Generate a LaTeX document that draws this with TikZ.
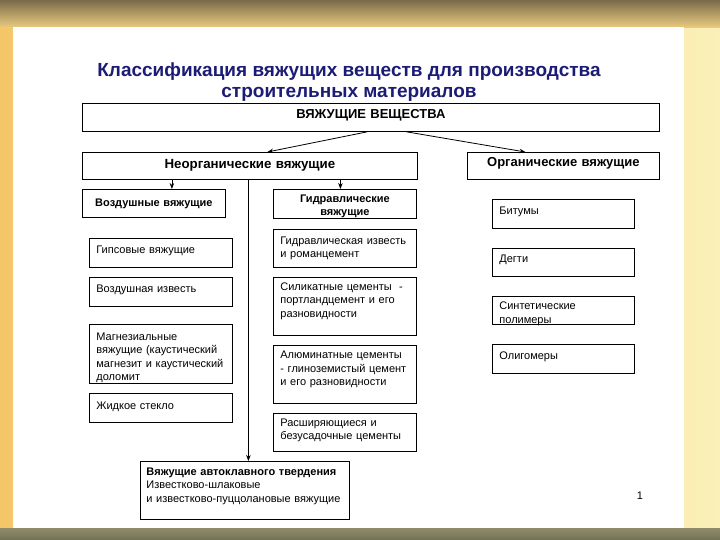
\documentclass[tikz,border=0pt]{standalone}
\usepackage{fontspec}
\setmainfont{Liberation Sans}
\usetikzlibrary{arrows.meta}

\definecolor{ctitle}{RGB}{28,28,118}
\definecolor{cgold}{RGB}{244,198,104}
\definecolor{ccream}{RGB}{250,240,184}
\definecolor{cbandtop}{RGB}{122,108,74}
\definecolor{cbandlow}{RGB}{236,204,128}
\definecolor{colive}{RGB}{142,140,106}
\definecolor{colivedk}{RGB}{116,114,86}

\begin{document}
\begin{tikzpicture}[x=1pt,y=-1pt,
        box/.style={draw=black,line width=0.8pt,anchor=north west,inner xsep=7pt,inner ysep=0pt,
                    text height=13.5pt,align=left,font=\fontsize{11}{13.5}\selectfont},
        head/.style={box,align=center,font=\fontsize{11}{13}\selectfont\bfseries},
        arr/.style={-{Stealth[length=6pt,width=4.5pt]},line width=0.8pt}]

      \useasboundingbox (0,0) rectangle (720,540);
      \shade[left color=cgold,right color=ccream] (0,0) rectangle (720,540);   % slide
      \shade[top color=cbandtop,bottom color=cbandlow] (0,0) rectangle (720,28);
      \shade[top color=colive,bottom color=colivedk] (0,528) rectangle (720,540);
      \fill[white] (13,27) rectangle (684,528);

      \node[align=center,text=ctitle,font=\fontsize{19}{20.5}\selectfont\bfseries]
        (title) at (349,82) {Классификация вяжущих веществ для производства\\
                             строительных материалов};

      \node[head,text width=563pt,text depth=13pt,text height=15pt,
            font=\fontsize{13}{14}\selectfont\bfseries]
        (root) at (82,103) {ВЯЖУЩИЕ ВЕЩЕСТВА};
      \node[head,text width=321pt,text depth=11pt,text height=16pt,
            font=\fontsize{13.3}{14}\selectfont\bfseries]
        (neorg) at (82,152) {Неорганические вяжущие};
      \node[head,text width=178pt,text depth=12.5pt,text height=14.5pt,
            font=\fontsize{13}{14}\selectfont\bfseries]
        (org) at (467,152) {Органические вяжущие};

      % inorganic, two groups
      \node[head,text width=129pt,text depth=11pt,text height=17pt] (vozd) at (82,189)
        {Воздушные вяжущие};
      \node[head,text width=129pt,text depth=15.5pt] (gidr) at (273,189)
        {Гидравлические\\вяжущие};

      \node[box,text width=129pt,text depth=14pt,text height=15pt] (gips) at (89,238)
        {Гипсовые вяжущие};
      \node[box,text width=129pt,text depth=14pt,text height=15pt] (izv) at (89,277)
        {Воздушная известь};
      \node[box,text width=129pt,text depth=43pt,text height=16pt] (magn) at (89,324)
        {Магнезиальные\\вяжущие (каустический\\магнезит и каустический\\доломит};
      \node[box,text width=129pt,text depth=13pt,text height=16pt] (steklo) at (89,393)
        {Жидкое стекло};

      \node[box,text width=129pt,text depth=23pt,text height=15pt] (gizv) at (273,229)
        {Гидравлическая известь\\и романцемент};
      \node[box,text width=129pt,text depth=45pt,text height=13pt] (silik) at (273,277)
        {Силикатные цементы~~-\\портландцемент и его\\разновидности};
      \node[box,text width=129pt,text depth=44.5pt,text height=13.5pt] (alum) at (273,345)
        {Алюминатные цементы\\- глиноземистый цемент\\и его разновидности};
      \node[box,text width=129pt,text depth=25pt,text height=13pt] (rassh) at (273,413)
        {Расширяющиеся и\\безусадочные цементы};

      % organic
      \node[box,text width=128pt,text depth=14pt,text height=15pt] (bitum) at (492,199) {Битумы};
      \node[box,text width=128pt,text depth=13.5pt,text height=14.5pt] (degti) at (492,248) {Дегти};
      \node[box,text width=128pt,text depth=14.5pt,text height=13.5pt] (sint) at (492,296)
        {Синтетические\\полимеры};
      \node[box,text width=128pt,text depth=14pt,text height=15pt] (oligo) at (492,344) {Олигомеры};

      \node[box,inner xsep=6pt,text width=197pt,text depth=44pt,text height=14pt] (avto) at (140,461)
        {\textbf{Вяжущие автоклавного твердения}\\Известково-шлаковые\\
         и известково-пуццолановые вяжущие};

      \draw[arr] ([xshift=-3.5pt]root.south) -- ([xshift=17.5pt]neorg.north);
      \draw[arr] ([xshift=35.5pt]root.south) -- ([xshift=-38pt]org.north);
      \draw[arr] ([xshift=18pt]vozd.north |- neorg.south) -- ([xshift=18pt]vozd.north);
      \draw[arr] ([xshift=-4.5pt]gidr.north |- neorg.south) -- ([xshift=-4.5pt]gidr.north);
      \draw[arr] ([xshift=-1.5pt]neorg.south) -- ([xshift=-1.5pt]neorg.south |- avto.north);

      \node[font=\fontsize{11}{13}\selectfont] (pnum) at (640,496) {1};
    \end{tikzpicture}
\end{document}
